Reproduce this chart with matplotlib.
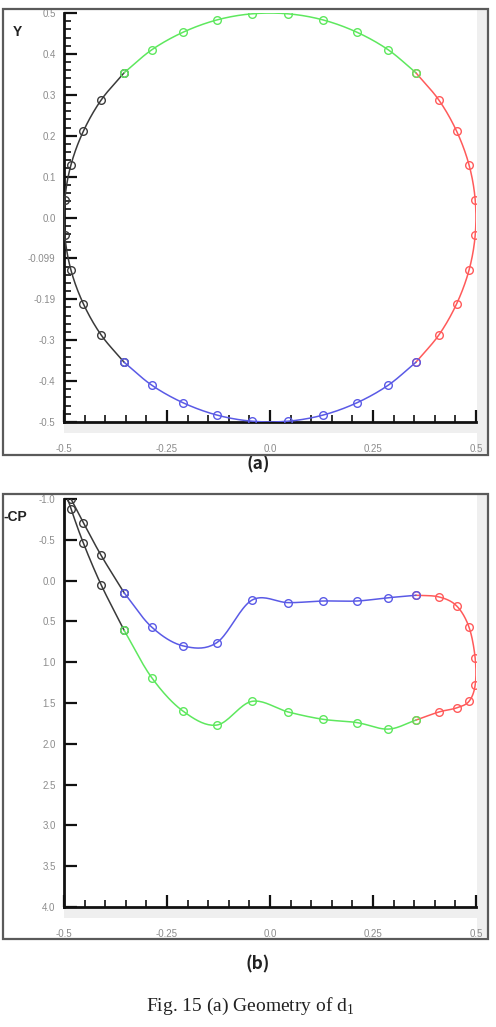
import numpy as np
import matplotlib
matplotlib.use("Agg")
import matplotlib.pyplot as plt
from matplotlib.patches import Rectangle

# ---------------- data ----------------
# (a) geometry: four surface segments
geo_black_x = [-0.354, -0.410, -0.453, -0.483, -0.498, -0.498, -0.483, -0.453, -0.410, -0.354]
geo_black_y = [0.354, 0.287, 0.211, 0.129, 0.044, -0.044, -0.129, -0.211, -0.287, -0.354]
geo_green_x = [-0.354, -0.287, -0.211, -0.129, -0.044, 0.044, 0.129, 0.211, 0.287, 0.354]
geo_green_y = [0.354, 0.410, 0.453, 0.483, 0.498, 0.498, 0.483, 0.453, 0.410, 0.354]
geo_red_x = [0.354, 0.410, 0.453, 0.483, 0.498, 0.498, 0.483, 0.453, 0.410, 0.354]
geo_red_y = [0.354, 0.287, 0.211, 0.129, 0.044, -0.044, -0.129, -0.211, -0.287, -0.354]
geo_blue_x = [-0.354, -0.287, -0.211, -0.129, -0.044, 0.044, 0.129, 0.211, 0.287, 0.354]
geo_blue_y = [-0.354, -0.410, -0.453, -0.483, -0.498, -0.498, -0.483, -0.453, -0.410, -0.354]

# (b) pressure coefficient on the same segments
cp_black_x = geo_black_x
cp_black = [0.61, 0.05, -0.46, -0.88, -1.12, -1.12, -1.00, -0.71, -0.31, 0.15]
cp_green_x = geo_green_x
cp_green = [0.61, 1.19, 1.60, 1.77, 1.48, 1.61, 1.70, 1.74, 1.82, 1.71]
cp_red_x = geo_red_x
cp_red = [1.71, 1.61, 1.56, 1.48, 1.28, 0.95, 0.57, 0.31, 0.20, 0.18]
cp_blue_x = geo_blue_x
cp_blue = [0.15, 0.57, 0.80, 0.76, 0.24, 0.27, 0.25, 0.25, 0.21, 0.18]

# tick labels
x_ticks = [-0.5, -0.25, 0.0, 0.25, 0.5]
x_tick_labels = ["-0.5", "-0.25", "0.0", "0.25", "0.5"]
geo_y_ticks = [-0.5, -0.4, -0.3, -0.2, -0.1, 0.0, 0.1, 0.2, 0.3, 0.4, 0.5]
geo_y_tick_labels = ["-0.5", "-0.4", "-0.3", "-0.19", "-0.099", "0.0", "0.1", "0.2", "0.3", "0.4", "0.5"]
cp_y_ticks = [-1.0, -0.5, 0.0, 0.5, 1.0, 1.5, 2.0, 2.5, 3.0, 3.5, 4.0]
cp_y_tick_labels = ["-1.0", "-0.5", "0.0", "0.5", "1.0", "1.5", "2.0", "2.5", "3.0", "3.5", "4.0"]

# ---------------- helpers ----------------
W, H = 496, 1027


def fx(px):
    return px / W


def fy(py):
    return 1 - py / H


def smooth(xs, ys, n=20):
    """Catmull-Rom curve through the given points (drawing only)."""
    P = np.column_stack([xs, ys]).astype(float)
    P = np.vstack([2 * P[0] - P[1], P, 2 * P[-1] - P[-2]])
    out = []
    t = np.linspace(0, 1, n, endpoint=False)[:, None]
    for i in range(1, len(P) - 2):
        p0, p1, p2, p3 = P[i - 1], P[i], P[i + 1], P[i + 2]
        pts = 0.5 * ((2 * p1) + (-p0 + p2) * t + (2 * p0 - 5 * p1 + 4 * p2 - p3) * t ** 2
                     + (-p0 + 3 * p1 - 3 * p2 + p3) * t ** 3)
        out.append(pts)
    out.append(P[-2][None])
    c = np.vstack(out)
    return c[:, 0], c[:, 1]


COL = {"black": "#3a3a3a", "red": "#ff5a5a", "blue": "#5a5ae6", "green": "#5ee85e"}

fig = plt.figure(figsize=(W / 100, H / 100), dpi=100)
fig.patch.set_facecolor("white")

tick_font = dict(family="Liberation Sans", size=7, color="#8c8c8c")


def panel(top_px, bot_px, frame_top, frame_bot):
    # grey strips (right and below the plot area)
    fig.patches.append(Rectangle((fx(477), fy(frame_bot - 2)), fx(488) - fx(477),
                                 fy(frame_top) - fy(frame_bot - 2), transform=fig.transFigure,
                                 facecolor="#efefef", edgecolor="none", zorder=-2))
    fig.patches.append(Rectangle((fx(64), fy(bot_px + 11)), fx(488) - fx(64),
                                 fy(bot_px + 1) - fy(bot_px + 11), transform=fig.transFigure,
                                 facecolor="#efefef", edgecolor="none", zorder=-2))
    # frame
    fig.patches.append(Rectangle((fx(3), fy(frame_bot)), fx(488) - fx(3),
                                 fy(frame_top) - fy(frame_bot), transform=fig.transFigure,
                                 facecolor="none", edgecolor="#5a5a5a", lw=1.6, zorder=5))
    ax = fig.add_axes([fx(64), fy(bot_px), fx(476) - fx(64), fy(top_px) - fy(bot_px)])
    ax.set_zorder(2)
    ax.set_facecolor("none")
    for s in ("top", "right"):
        ax.spines[s].set_visible(False)
    for s in ("left", "bottom"):
        ax.spines[s].set_color("#111111")
        ax.spines[s].set_linewidth(2.0)
    ax.set_xlim(-0.5, 0.5)
    ax.set_xticks(x_ticks)
    ax.set_xticklabels(x_tick_labels, fontdict=tick_font)
    ax.set_xticks(np.arange(-0.5, 0.501, 0.05), minor=True)
    ax.tick_params(axis="x", which="major", direction="in", length=9, width=1.6,
                   color="#111111", pad=16)
    ax.tick_params(axis="x", which="minor", direction="in", length=5, width=1.2,
                   color="#111111")
    ax.tick_params(axis="y", which="major", direction="in", length=9, width=1.6,
                   color="#111111", pad=6)
    ax.tick_params(axis="y", which="minor", direction="in", length=5, width=1.2,
                   color="#111111")
    return ax


def draw(ax, xs, ys, color):
    sx, sy = smooth(xs, ys)
    ax.plot(sx, sy, color=color, lw=1.1, zorder=3)
    ax.plot(xs, ys, linestyle="none", marker="o", markersize=5.5, markerfacecolor="none",
            markeredgecolor=color, markeredgewidth=1.0, zorder=4)


# ---------------- (a) geometry ----------------
ax1 = panel(13, 422, 9, 455)
ax1.set_ylim(-0.5, 0.5)
ax1.set_yticks(geo_y_ticks)
ax1.set_yticklabels(geo_y_tick_labels, fontdict=tick_font)
ax1.set_yticks(np.arange(-0.5, 0.501, 0.02), minor=True)
draw(ax1, geo_black_x, geo_black_y, COL["black"])
draw(ax1, geo_red_x, geo_red_y, COL["red"])
draw(ax1, geo_blue_x, geo_blue_y, COL["blue"])
draw(ax1, geo_green_x, geo_green_y, COL["green"])
fig.text(fx(17), fy(32), "Y", ha="center", va="center", fontsize=10, fontweight="bold",
         family="Liberation Sans", color="#222222")

# ---------------- (b) Cp ----------------
ax2 = panel(499, 907, 494, 939)
ax2.set_ylim(4.0, -1.0)
ax2.set_yticks(cp_y_ticks)
ax2.set_yticklabels(cp_y_tick_labels, fontdict=tick_font)
draw(ax2, cp_black_x, cp_black, COL["black"])
draw(ax2, cp_red_x, cp_red, COL["red"])
draw(ax2, cp_blue_x, cp_blue, COL["blue"])
draw(ax2, cp_green_x, cp_green, COL["green"])
fig.text(fx(4), fy(517), "-CP", ha="left", va="center", fontsize=10, fontweight="bold",
         family="Liberation Sans", color="#222222")

# ---------------- labels ----------------
fig.text(fx(258), fy(464), "(a)", ha="center", va="center", fontsize=12.5,
         family=["Noto Sans CJK KR", "DejaVu Sans"], fontweight="bold", color="#222222")
fig.text(fx(258), fy(964), "(b)", ha="center", va="center", fontsize=12.5,
         family=["Noto Sans CJK KR", "DejaVu Sans"], fontweight="bold", color="#222222")
fig.text(fx(250), fy(1006), r"Fig. 15 (a) Geometry of d$_\mathregular{1}$", ha="center",
         va="center", fontsize=14, family="Liberation Serif", color="#222222")

fig.savefig("out.png", dpi=100)
